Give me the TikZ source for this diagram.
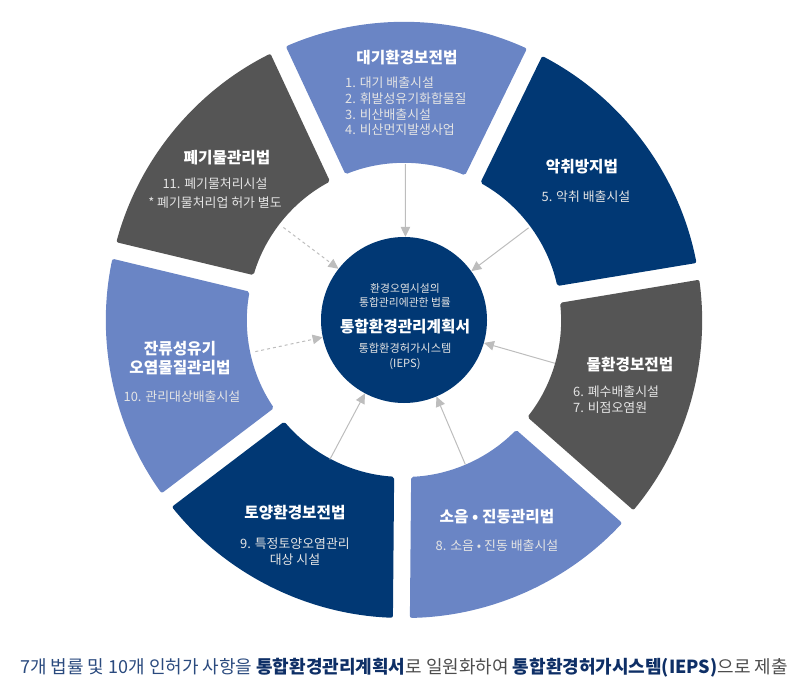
\documentclass[tikz,border=0pt]{standalone}
\usepackage{fontspec}
\setmainfont{Noto Sans CJK KR}
\usetikzlibrary{arrows.meta,calc}
\definecolor{navy}{HTML}{013874}
\definecolor{lblue}{HTML}{6A85C5}
\definecolor{dgray}{HTML}{555555}
\definecolor{arrgray}{HTML}{BDBDBD}
\definecolor{itemc}{HTML}{E4E4E4}
\definecolor{capblue}{HTML}{2A4A7E}
\definecolor{capnavy}{HTML}{0E2F66}
\definecolor{capgray}{HTML}{4D4D4D}
% #1 = counter-clockwise boundary angle, #2 = clockwise boundary angle, #3 = colour
\newcommand\ringseg[3]{%
  \pgfmathsetmacro\aA{#1-1.634}%
  \pgfmathsetmacro\aB{#2+1.634}%
  \pgfmathsetmacro\aC{#2+3.104}%
  \pgfmathsetmacro\aD{#1-3.104}%
  \fill[#3,rounded corners=2pt] ($(C)+(\aA:298)$) arc[start angle=\aA,end angle=\aB,radius=298pt]
    -- ($(C)+(\aC:157)$) arc[start angle=\aC,end angle=\aD,radius=157pt] -- cycle;
}
\tikzset{
  ttl/.style={text=white,font=\fontsize{15.7}{19}\selectfont\bfseries,inner sep=0pt,align=center},
  itm/.style={text=itemc,font=\fontsize{12.9}{15.7}\selectfont,inner sep=0pt},
  hubtxt/.style={text=itemc,font=\fontsize{10.8}{14}\selectfont,inner sep=0pt,align=center},
  arr/.style={draw=arrgray,line width=1pt,-{Triangle[length=10pt,width=9.5pt,fill=arrgray]}},
  darr/.style={arr,dash pattern=on 3pt off 3pt}
}
\begin{document}
\begin{tikzpicture}[x=1pt,y=1pt]
\useasboundingbox (0,0) rectangle (800,-693);
\coordinate (C) at (404,-320);
% ring segments
\ringseg{115}{64}{lblue}
\ringseg{64}{9.4}{navy}
\ringseg{9.4}{-41.3}{dgray}
\ringseg{-41.3}{-90.5}{lblue}
\ringseg{-90.5}{-142.8}{navy}
\ringseg{-142.8}{-193.5}{lblue}
\ringseg{166.5}{115}{dgray}
% hub
\node[circle,fill=navy,minimum size=166pt,inner sep=0pt] (hub) at (C) {};
\node[hubtxt] (h1) at (405,-295) {환경오염시설의\\통합관리에관한 법률};
\node[ttl] (h2) at (405,-327) {통합환경관리계획서};
\node[hubtxt,font=\fontsize{11.2}{15}\selectfont] (h3) at (405,-356.5) {통합환경허가시스템\\(IEPS)};
% segment texts
\node[ttl] (t1) at (407,-58) {대기환경보전법};
\node[itm,align=left,anchor=west] (i1) at (345,-106.5) {1. 대기 배출시설\\2. 휘발성유기화합물질\\3. 비산배출시설\\4. 비산먼지발생사업};
\node[ttl] (t2) at (582,-167) {악취방지법};
\node[itm] (i2) at (586,-197) {5. 악취 배출시설};
\node[ttl] (t3) at (630,-365) {물환경보전법};
\node[itm,align=left,anchor=west] (i3) at (573,-399.5) {6. 폐수배출시설\\7. 비점오염원};
\node[ttl] (t4) at (497,-517) {소음 • 진동관리법};
\node[itm] (i4) at (497,-546) {8. 소음 • 진동 배출시설};
\node[ttl] (t5) at (295,-513) {토양환경보전법};
\node[itm,align=center] (i5) at (295,-552) {9. 특정토양오염관리\\대상 시설};
\node[ttl] (t6) at (180,-358.5) {잔류성유기\\오염물질관리법};
\node[itm] (i6) at (182,-397) {10. 관리대상배출시설};
\node[ttl] (t7) at (227,-158) {폐기물관리법};
\node[itm,align=center,font=\fontsize{12.9}{19}\selectfont] (i7) at (215,-193.5) {11. 폐기물처리시설\\* 폐기물처리업 허가 별도};
% arrows
\coordinate (a1) at ($(C)+(89.5:156)$);
\coordinate (a2) at ($(C)+(36.5:155)$);
\coordinate (a3) at ($(C)+(-16:157)$);
\coordinate (a4) at ($(C)+(-67:157)$);
\coordinate (a5) at ($(C)+(-118:158)$);
\coordinate (a6) at ($(C)+(192:152)$);
\coordinate (a7) at ($(C)+(142.5:152)$);
\draw[arr] (a1) -- (hub.89.5);
\draw[arr] (a2) -- (hub.36.5);
\draw[arr] (a3) -- (hub.-16);
\draw[arr] (a4) -- (hub.-67);
\draw[arr] (a5) -- (hub.-118);
\draw[darr] (a6) -- (hub.192);
\draw[darr] (a7) -- (hub.142.5);
% caption
\node[inner sep=0pt,font=\fontsize{18}{22}\selectfont] (cap) at (404,-668)
 {\color{capblue}7개 법률 및 10개 인허가 사항을 \textbf{\color{capnavy}통합환경관리계획서}\color{capgray}로 일원화하여 \textbf{\color{capnavy}통합환경허가시스템(IEPS)}\color{capgray}으로 제출};
\end{tikzpicture}
\end{document}
